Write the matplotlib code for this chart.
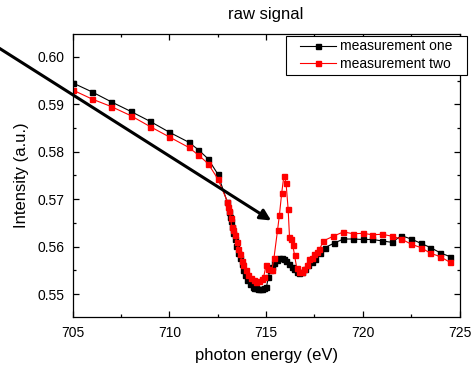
import matplotlib
matplotlib.use('Agg')
import matplotlib.pyplot as plt
from matplotlib.patches import Rectangle
from matplotlib.ticker import MultipleLocator, FormatStrFormatter

plt.rcParams['font.family'] = ['Liberation Sans', 'DejaVu Sans']

# measurement one (black)
energy_one = [705.0, 706.0, 707.0, 708.0, 709.0, 710.0, 711.0, 711.5, 712.0, 712.5,
              713.0, 713.08, 713.14, 713.2, 713.26, 713.31, 713.37, 713.47, 713.56, 713.65,
              713.74, 713.83, 713.92, 714.03, 714.16, 714.3, 714.4, 714.5, 714.6, 714.7,
              714.8, 714.9, 715.02, 715.12, 715.2, 715.3, 715.42, 715.55, 715.68, 715.8,
              715.92, 716.05, 716.18, 716.32, 716.45, 716.58, 716.72, 716.85, 717.0, 717.19,
              717.37, 717.54, 717.8, 718.05, 718.5, 719.0, 719.5, 720.0, 720.5, 721.0,
              721.5, 722.0, 722.5, 723.0, 723.5, 724.0, 724.5]
signal_one = [0.5945, 0.5926, 0.5905, 0.5885, 0.5864, 0.5841, 0.5820, 0.5804, 0.5785, 0.5753,
              0.5693, 0.5672, 0.5662, 0.5653, 0.5641, 0.5629, 0.5615, 0.5601, 0.5587, 0.5575,
              0.5563, 0.5551, 0.5540, 0.5530, 0.5521, 0.5515, 0.5513, 0.5512, 0.5511, 0.5511,
              0.5511, 0.5512, 0.5515, 0.5536, 0.5551, 0.5558, 0.5565, 0.5572, 0.5575, 0.5576,
              0.5574, 0.5569, 0.5563, 0.5557, 0.5552, 0.5547, 0.5545, 0.5546, 0.5552, 0.5561,
              0.5567, 0.5573, 0.5586, 0.5598, 0.5607, 0.5616, 0.5616, 0.5615, 0.5615, 0.5612,
              0.5609, 0.5623, 0.5616, 0.5607, 0.5598, 0.5587, 0.5579]

# measurement two (red)
energy_two = [705.0, 706.0, 707.0, 708.0, 709.0, 710.0, 711.0, 711.5, 712.0, 712.5,
              713.0, 713.05, 713.1, 713.17, 713.22, 713.3, 713.4, 713.48, 713.57, 713.65,
              713.74, 713.83, 713.95, 714.08, 714.2, 714.35, 714.5, 714.65, 714.78, 714.88,
              715.0, 715.12, 715.3, 715.41, 715.59, 715.69, 715.81, 715.92, 716.03, 716.14,
              716.21, 716.29, 716.38, 716.47, 716.59, 716.71, 716.85, 716.97, 717.1, 717.24,
              717.36, 717.5, 717.62, 717.76, 717.96, 718.48, 719.0, 719.5, 720.0, 720.5,
              721.0, 721.5, 722.0, 722.5, 723.0, 723.5, 724.0, 724.5]
signal_two = [0.5930, 0.5911, 0.5895, 0.5876, 0.5853, 0.5831, 0.5809, 0.5793, 0.5775, 0.5743,
              0.5695, 0.5684, 0.5674, 0.5660, 0.5641, 0.5634, 0.5624, 0.5610, 0.5596, 0.5584,
              0.5570, 0.5561, 0.5551, 0.5540, 0.5534, 0.5529, 0.5526, 0.5527, 0.5531, 0.5537,
              0.5561, 0.5552, 0.5551, 0.5577, 0.5634, 0.5667, 0.5714, 0.5749, 0.5735, 0.5679,
              0.5621, 0.5615, 0.5603, 0.5582, 0.5554, 0.5547, 0.5547, 0.5552, 0.5561, 0.5573,
              0.5577, 0.5584, 0.5589, 0.5594, 0.5612, 0.5622, 0.5631, 0.5627, 0.5628, 0.5625,
              0.5626, 0.5622, 0.5616, 0.5605, 0.5598, 0.5586, 0.5579, 0.5567]

# arrow: tail (off to the left) and tip, in data units
arrow_tail = (699.0, 0.6075)
arrow_tip = (715.26, 0.5655)

fig = plt.figure(figsize=(4.71, 3.72), dpi=100)
ax = fig.add_axes([0.1543, 0.147, 0.8213, 0.7616])

ax.plot(energy_one, signal_one, color='black', lw=0.8, marker='s', ms=3.6,
        mec='black', mfc='black', label='measurement one')
ax.plot(energy_two, signal_two, color='red', lw=0.8, marker='s', ms=3.6,
        mec='red', mfc='red', label='measurement two')

ax.set_xlim(705, 725)
ax.set_ylim(0.5451, 0.6048)
ax.xaxis.set_major_locator(MultipleLocator(5))
ax.xaxis.set_minor_locator(MultipleLocator(2.5))
ax.yaxis.set_major_locator(MultipleLocator(0.01))
ax.yaxis.set_minor_locator(MultipleLocator(0.005))
ax.yaxis.set_major_formatter(FormatStrFormatter('%.2f'))
ax.tick_params(which='both', direction='in', top=True, right=True, labelsize=10, width=0.9)
ax.tick_params(which='major', length=4.5, pad=6)
ax.tick_params(which='minor', length=2.5)
for s in ax.spines.values():
    s.set_linewidth(0.9)

ax.set_xlabel('photon energy (eV)', fontsize=12, labelpad=6)
ax.set_ylabel('Intensity (a.u.)', fontsize=12, labelpad=6)
ax.set_title('raw signal', fontsize=12, pad=11)

ax.annotate('', xy=arrow_tip, xytext=arrow_tail, annotation_clip=False,
            arrowprops=dict(arrowstyle='-|>', lw=2.2, color='black',
                            mutation_scale=16, shrinkA=0, shrinkB=0))

# legend box (Origin style, wider padding left/right than top/bottom)
box = Rectangle((0.6072, 0.7984), 0.3837, 0.1056, transform=fig.transFigure,
                facecolor='white', edgecolor='black', lw=0.8, zorder=4)
fig.patches.append(box)
leg = fig.legend(*ax.get_legend_handles_labels(), loc='upper left',
                 bbox_to_anchor=(0.637, 0.894), borderaxespad=0, borderpad=0,
                 fontsize=10, numpoints=1, handlelength=2.6, handletextpad=0.3,
                 labelspacing=0.28, frameon=False)
leg.set_zorder(5)

fig.savefig('out.png', dpi=100)
